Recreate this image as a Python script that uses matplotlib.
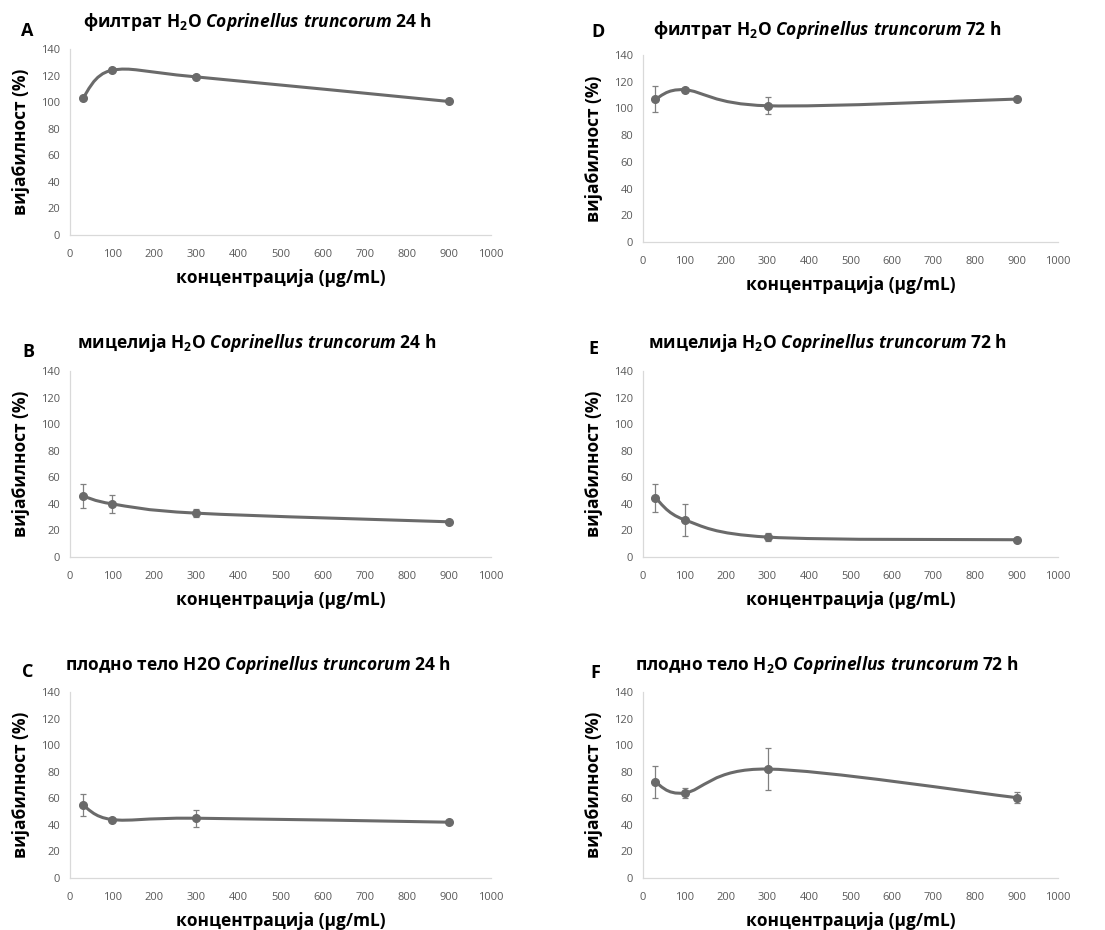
import matplotlib.pyplot as plt
from matplotlib.path import Path
from matplotlib.patches import PathPatch
import numpy as np

plt.rcParams['font.family'] = ['Open Sans', 'DejaVu Sans']
plt.rcParams['mathtext.fontset'] = 'custom'
plt.rcParams['mathtext.rm'] = 'Open Sans:bold'
plt.rcParams['mathtext.it'] = 'Open Sans:italic:bold'
plt.rcParams['mathtext.bf'] = 'Open Sans:bold'

# concentrations (µg/mL)
conc = [30, 100, 300, 900]

# viability (%) and error bars
filt24 = [103, 124, 119, 100.5]
filt24_err = [0, 1.5, 0, 0]
myc24 = [46, 40, 33, 26.5]
myc24_err = [9, 7, 3, 0]
fruit24 = [55, 44, 45, 42]
fruit24_err = [8, 0, 6.5, 0]
filt72 = [107, 114, 102, 107]
filt72_err = [10, 1.5, 6.5, 0]
myc72 = [44.5, 28, 15, 13]
myc72_err = [10.5, 12, 3, 0]
fruit72 = [72, 64, 82, 60.5]
fruit72_err = [12, 4, 15.5, 4]

sp = r'$\mathit{Coprinellus\ truncorum}$'
titles = [
    'филтрат H$_{2}$O ' + sp + ' 24 h',
    'мицелија H$_{2}$O ' + sp + ' 24 h',
    'плодно тело H2O ' + sp + ' 24 h',
    'филтрат H$_{2}$O ' + sp + ' 72 h',
    'мицелија H$_{2}$O ' + sp + ' 72 h',
    'плодно тело H$_{2}$O ' + sp + ' 72 h',
]
letters = ['A', 'B', 'C', 'D', 'E', 'F']
series = [(filt24, filt24_err), (myc24, myc24_err), (fruit24, fruit24_err),
          (filt72, filt72_err), (myc72, myc72_err), (fruit72, fruit72_err)]

W, H = 1105, 930
# pixel boxes: left, top, right, bottom of plot area
boxes = [(70, 49, 491, 235), (70, 371, 491, 557), (70, 692, 491, 878),
         (643, 55, 1058, 242), (643, 371, 1058, 557), (643, 692, 1058, 878)]
title_pos = [(257, 22), (257, 343), (258, 665), (827, 30), (827, 343), (827, 665)]
letter_pos = [(27, 31), (28, 352), (28, 672), (598, 32), (593, 349), (595, 673)]

line_c = '#6a6a6a'


def smooth_path(x, y):
    # Excel-style smoothed line (cubic bezier through the points)
    pts = np.column_stack([x, y]).astype(float)
    n = len(pts)
    verts = [pts[0]]
    codes = [Path.MOVETO]
    for i in range(n - 1):
        p0 = pts[max(i - 1, 0)]
        p1 = pts[i]
        p2 = pts[i + 1]
        p3 = pts[min(i + 2, n - 1)]
        verts += [p1 + (p2 - p0) / 6, p2 - (p3 - p1) / 6, p2]
        codes += [Path.CURVE4] * 3
    return Path(verts, codes)


fig = plt.figure(figsize=(W / 100, H / 100), dpi=100)

for i in range(6):
    l, t, r, b = boxes[i]
    ax = fig.add_axes([l / W, 1 - b / H, (r - l) / W, (b - t) / H])
    vals, errs = series[i]
    ax.add_patch(PathPatch(smooth_path(conc, vals), fill=False,
                           edgecolor=line_c, lw=2.2, zorder=3))
    ax.errorbar(conc, vals, yerr=errs, fmt='none', ecolor='#808080',
                elinewidth=0.9, capsize=2.5, capthick=0.9, zorder=2)
    ax.plot(conc, vals, 'o', color=line_c, ms=5.5, zorder=4)

    ax.set_xlim(0, 1000)
    ax.set_ylim(0, 140)
    ax.set_xticks(np.arange(0, 1001, 100))
    ax.set_yticks(np.arange(0, 141, 20))
    ax.tick_params(length=0, labelsize=8, labelcolor='#595959')
    ax.tick_params(axis='x', pad=10)
    ax.tick_params(axis='y', pad=7)
    for s in ['top', 'right']:
        ax.spines[s].set_visible(False)
    for s in ['left', 'bottom']:
        ax.spines[s].set_color('#d9d9d9')
        ax.spines[s].set_linewidth(0.9)
    ax.set_ylabel('вијабилност (%)', fontsize=12.5, fontweight='bold', labelpad=8)
    ax.set_xlabel('концентрација (μg/mL)', fontsize=12.5, fontweight='bold', labelpad=6.5)

    tx, ty = title_pos[i]
    fig.text(tx / W, 1 - ty / H, titles[i], fontsize=12.5, fontweight='bold',
             ha='center', va='center')
    lx, ly = letter_pos[i]
    fig.text(lx / W, 1 - ly / H, letters[i], fontsize=13, fontweight='bold',
             ha='center', va='center')

plt.savefig('out.png', dpi=100)
